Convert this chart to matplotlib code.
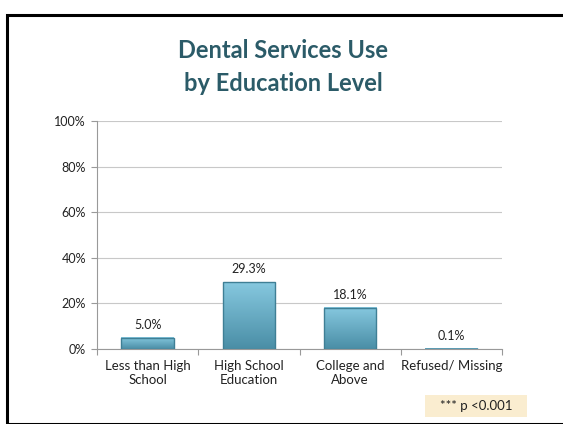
import numpy as np
import matplotlib.pyplot as plt
from matplotlib.patches import Rectangle
from matplotlib.colors import LinearSegmentedColormap

categories = ["Less than High\nSchool", "High School\nEducation", "College and\nAbove", "Refused/ Missing"]
values = [5.0, 29.3, 18.1, 0.1]
yticks = [0, 20, 40, 60, 80, 100]

plt.rcParams['font.family'] = ['Lato', 'DejaVu Sans']

fig = plt.figure(figsize=(5.63, 4.24), dpi=100)
fig.add_artist(Rectangle((7 / 563, 0), 1.0, 1 - 15 / 424, transform=fig.transFigure,
                         fill=False, edgecolor="black", linewidth=2.2, clip_on=False))

fig.text(0.503, 1 - 67 / 424, "Dental Services Use\nby Education Level", ha="center", va="center",
         fontsize=17, fontweight="bold", color="#2b5b68", linespacing=1.5)

ax = fig.add_axes([97 / 563, 1 - 349 / 424, 405 / 563, 228 / 424])
x = np.arange(len(categories))
bw = 0.52
cmap = LinearSegmentedColormap.from_list("bar", ["#4a8ea6", "#86c8df"])
grad = np.linspace(0, 1, 100).reshape(-1, 1)

ax.set_xlim(-0.5, len(categories) - 0.5)
ax.set_ylim(0, 100)
for xi, v in zip(x, values):
    ax.imshow(grad, cmap=cmap, extent=(xi - bw / 2, xi + bw / 2, 0, v), origin="lower",
              aspect="auto", zorder=2)
    ax.add_patch(Rectangle((xi - bw / 2, 0), bw, v, fill=False, edgecolor="#3f7f95",
                           linewidth=1.0, zorder=3))
    ax.text(xi, v + 3, f"{v:.1f}%", ha="center", va="bottom", fontsize=9, color="#222222")

ax.set_yticks(yticks)
ax.set_yticklabels([f"{t}%" for t in yticks], fontsize=9, color="#222222")
ax.yaxis.grid(True, color="#c8c8c8", linewidth=0.8)
ax.set_axisbelow(True)
ax.set_xticks(np.arange(-0.5, len(categories), 1))
ax.set_xticklabels([])
ax.set_xticks(x, minor=True)
ax.set_xticklabels(categories, minor=True, fontsize=9.5, color="#222222")
ax.tick_params(axis="x", which="minor", length=0, pad=8)
ax.tick_params(axis="x", which="major", length=4, color="#999999", direction="out")
ax.tick_params(axis="y", length=4, color="#999999", pad=4)
for s in ["top", "right"]:
    ax.spines[s].set_visible(False)
ax.spines["left"].set_color("#999999")
ax.spines["bottom"].set_color("#999999")

fig.add_artist(Rectangle((425 / 563, 1 - 417 / 424), 102 / 563, 22 / 424,
                         transform=fig.transFigure, facecolor="#faedd0", edgecolor="none"))
fig.text(476 / 563, 1 - 406 / 424, "*** p <0.001", ha="center", va="center", fontsize=9.5,
         color="#222222")

fig.savefig("out.png", dpi=100)
